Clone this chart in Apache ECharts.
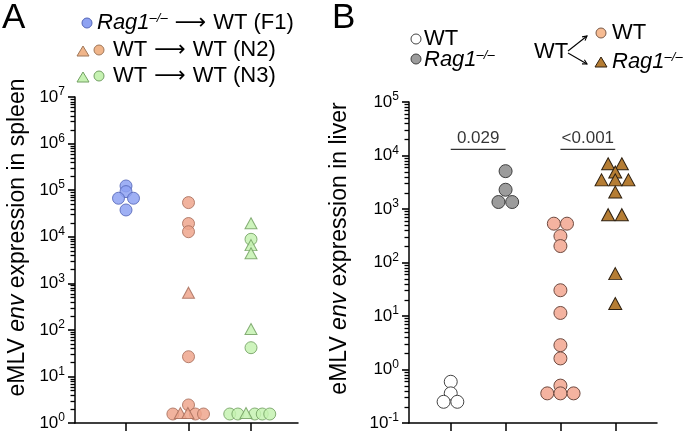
<!DOCTYPE html>
<html>
<head>
<meta charset="utf-8">
<script src="https://cdn.jsdelivr.net/npm/echarts@6/dist/echarts.min.js"></script>
<style>
  html, body { margin: 0; padding: 0; background: #fff; }
  #main { width: 698px; height: 433px; }
</style>
</head>
<body>
<div id="main"></div>
<script>
'use strict';

// ---- panel A : spleen ----
var aExp = [0, 1, 2, 3, 4, 5, 6, 7];
var aPos = { f1: 1, n2: 2, n3: 3 };

var aF1Circle = [1.23e5, 9.3e4, 6.7e4, 6.7e4, 3.75e4];
var aF1CircleJit = [0, 0, -0.12, 0.12, 0];

var aN2Circle = [5.4e4, 1.92e4, 1.28e4, 26.5, 2.44, 1.56, 1.56, 1.56];
var aN2CircleJit = [0, 0, 0, 0, 0, -0.25, 0.11, 0.24];
var aN2Tri = [628, 1.64, 1.64];
var aN2TriJit = [0, -0.13, -0.01];

var aN3Circle = [8.8e3, 41.4, 1.56, 1.56, 1.56, 1.56, 1.56];
var aN3CircleJit = [0, 0, -0.34, -0.21, 0.06, 0.18, 0.3];
var aN3Tri = [1.94e4, 6.6e3, 4.4e3, 104, 1.64];
var aN3TriJit = [0, 0, 0, 0, -0.08];

// ---- panel B : liver ----
var bExp = [-1, 0, 1, 2, 3, 4, 5];
var bPos = { wt: 1, rag: 2, wtwt: 3, wtrag: 4 };

var bWT = [0.59, 0.358, 0.249, 0.249];
var bWTJit = [0, 0, -0.13, 0.12];
var bRag = [5.1e3, 2.29e3, 1.35e3, 1.35e3];
var bRagJit = [0, 0, -0.13, 0.12];
var bWtWt = [532, 532, 312, 203, 30.3, 11.4, 2.85, 1.61, 0.5, 0.358, 0.358, 0.358];
var bWtWtJit = [-0.12, 0.12, 0, 0, 0, 0, 0, 0, 0, -0.24, 0, 0.24];
var bWtRag = [7.0e3, 7.0e3, 4.9e3, 3.5e3, 3.5e3, 3.5e3, 2.07e3, 783, 783, 62, 17.1];
var bWtRagJit = [-0.13, 0.12, 0, -0.25, 0, 0.24, 0, -0.13, 0.12, 0, 0];

var bPLabels = ['0.029', '<0.001'];
var bPFrom = [1, 3];
var bPTo = [2, 4];
var bPLevel = 1.3e4;

var FONT = '"Liberation Sans", Arial, Helvetica, sans-serif';
var aXRange = [0.184, 3.752];
var bXRange = [0.239, 4.761];

function pts(pos, vals, jit) {
    return vals.map(function (v, i) { return [pos + jit[i], Math.log10(v)]; });
}

// log-style minor ticks (2..9 in each decade)
function minorTicks(exps) {
    var out = [];
    for (var i = 0; i < exps.length - 1; i++) {
        for (var k = 2; k <= 9; k++) {
            out.push(exps[i] + Math.log10(k));
        }
    }
    return out;
}

var tickRich = {
    b: { fontSize: 17, fontFamily: FONT, color: '#000' },
    s: { fontSize: 12, fontFamily: FONT, color: '#000', padding: [0, 0, 10, 0] }
};

function mainY(grid, exps, gap, shift, nameParts) {
    return {
        gridIndex: grid, type: 'value', position: 'left',
        min: exps[0], max: exps[exps.length - 1], interval: 1,
        axisLine: { show: true, onZero: false, lineStyle: { color: '#000', width: 1.5 } },
        axisTick: { show: true, length: 7, lineStyle: { color: '#000', width: 1.6 } },
        axisLabel: {
            margin: 10,
            formatter: function (v) { return '{b|10}{s|' + v + '}'; },
            rich: tickRich
        },
        splitLine: { show: false },
        name: '{r|' + nameParts[0] + '}{i|' + nameParts[1] + '}{r|' + nameParts[2] + '}',
        nameLocation: 'middle',
        nameGap: gap,
        nameTextStyle: {
            padding: [0, 0, 0, shift],
            rich: {
                r: { fontSize: 23, fontFamily: FONT, color: '#000' },
                i: { fontSize: 23, fontFamily: FONT, color: '#000', fontStyle: 'italic' }
            }
        }
    };
}

function xAxisFor(grid, range, ticks) {
    return {
        gridIndex: grid, type: 'value', min: range[0], max: range[1],
        axisLine: { show: true, onZero: false, lineStyle: { color: '#000', width: 1.5 } },
        axisTick: { show: true, length: 8, customValues: ticks, lineStyle: { color: '#000', width: 1.5 } },
        axisLabel: { show: false },
        splitLine: { show: false }
    };
}

function dots(x, y, data, symbol, size, fill, border, opacity) {
    return {
        type: 'scatter', xAxisIndex: x, yAxisIndex: y, data: data,
        symbol: symbol, symbolSize: size, silent: true,
        itemStyle: { color: fill, borderColor: border, borderWidth: 1, opacity: opacity }
    };
}

var series = [
    dots(0, 0, pts(aPos.f1, aF1Circle, aF1CircleJit), 'circle', 12, '#8ea2f2', '#5566b8', 0.85),
    dots(0, 0, pts(aPos.n2, aN2Circle, aN2CircleJit), 'circle', 12, '#eea68d', '#a86e5c', 0.85),
    dots(0, 0, pts(aPos.n2, aN2Tri, aN2TriJit), 'triangle', [12, 11], '#eea68d', '#a86e5c', 0.85),
    dots(0, 0, pts(aPos.n3, aN3Circle, aN3CircleJit), 'circle', 12, '#c6f2b2', '#72a062', 0.85),
    dots(0, 0, pts(aPos.n3, aN3Tri, aN3TriJit), 'triangle', [12, 11], '#c6f2b2', '#72a062', 0.85),

    dots(1, 1, pts(bPos.wt, bWT, bWTJit), 'circle', 13, '#ffffff', '#444444', 1),
    dots(1, 1, pts(bPos.rag, bRag, bRagJit), 'circle', 13, '#9c9c9c', '#3e3e3e', 1),
    dots(1, 1, pts(bPos.wtwt, bWtWt, bWtWtJit), 'circle', 13, '#f4b3a0', '#6e4a40', 1),
    dots(1, 1, pts(bPos.wtrag, bWtRag, bWtRagJit), 'triangle', [13, 12], '#b57d34', '#2e2010', 1)
];

bPLabels.forEach(function (txt, i) {
    var yv = Math.log10(bPLevel);
    series.push({
        type: 'line', xAxisIndex: 1, yAxisIndex: 1, silent: true,
        data: [[bPFrom[i], yv], [bPTo[i], yv]],
        symbol: 'none', lineStyle: { color: '#333', width: 1.2 }
    });
    series.push({
        type: 'scatter', xAxisIndex: 1, yAxisIndex: 1, silent: true,
        data: [[(bPFrom[i] + bPTo[i]) / 2, yv]], symbolSize: 0,
        label: { show: true, position: 'top', distance: 3, formatter: txt, fontSize: 17, fontFamily: FONT, color: '#000' }
    });
});

// legend / panel letters drawn as graphics
function legRich(size) {
    return {
        n: { fontSize: size, fontFamily: FONT, color: '#000' },
        i: { fontSize: size, fontFamily: FONT, color: '#000', fontStyle: 'italic' },
        a: { fontSize: size, fontFamily: '"DejaVu Sans", sans-serif', color: '#000' },
        s: { fontSize: Math.round(size * 0.6), fontFamily: FONT, color: '#000', fontStyle: 'italic', padding: [0, 0, 10, 0] }
    };
}
function legText(x, y, txt, size) {
    return { type: 'text', x: x, y: y, style: { text: txt, rich: legRich(size), verticalAlign: 'middle', align: 'left' } };
}
function legCircle(x, y, fill, stroke) {
    return { type: 'circle', shape: { cx: x, cy: y, r: 5 }, style: { fill: fill, stroke: stroke, lineWidth: 1 } };
}
function legTri(x, y, fill, stroke) {
    return { type: 'polygon', shape: { points: [[x, y - 5], [x + 6, y + 5], [x - 6, y + 5]] }, style: { fill: fill, stroke: stroke, lineWidth: 1 } };
}
function arrowLine(x1, y1, x2, y2) {
    var a = Math.atan2(y2 - y1, x2 - x1), h = 5;
    return [
        { type: 'line', shape: { x1: x1, y1: y1, x2: x2, y2: y2 }, style: { stroke: '#000', lineWidth: 1.1 } },
        { type: 'polyline', shape: { points: [
            [x2 - h * Math.cos(a - 0.5), y2 - h * Math.sin(a - 0.5)], [x2, y2],
            [x2 - h * Math.cos(a + 0.5), y2 - h * Math.sin(a + 0.5)]] },
          style: { stroke: '#000', lineWidth: 1.1, fill: null } }
    ];
}

var ARROW = '{a| \u27F6 }';
var graphics = [
    { type: 'text', x: 2, y: 18, style: { text: 'A', fontSize: 35, fontFamily: FONT, fill: '#000', verticalAlign: 'middle' } },
    { type: 'text', x: 332, y: 18, style: { text: 'B', fontSize: 35, fontFamily: FONT, fill: '#000', verticalAlign: 'middle' } },

    legCircle(87, 23, '#8ea2f2', '#5566b8'),
    legText(97, 23, '{i|Rag1}{s|\u2013/\u2013}' + ARROW + '{n|WT (F1)}', 22),
    legTri(83, 51, '#f0b58a', '#a0785a'),
    legCircle(99, 50, '#f0b58a', '#a0785a'),
    legText(113, 50, '{n|WT}' + ARROW + '{n|WT (N2)}', 22),
    legTri(83, 77, '#c6f2b2', '#72a062'),
    legCircle(99, 76, '#c6f2b2', '#72a062'),
    legText(113, 76, '{n|WT}' + ARROW + '{n|WT (N3)}', 22),

    legCircle(416, 39, '#ffffff', '#444'),
    legText(424, 39, '{n|WT}', 22),
    legCircle(416, 59, '#9c9c9c', '#3e3e3e'),
    legText(424, 60, '{i|Rag1}{s|\u2013/\u2013}', 22),
    legText(534, 52, '{n|WT}', 22),
    legCircle(601, 33, '#f6bb92', '#7a5a48'),
    legText(612, 33, '{n|WT}', 22),
    legTri(601, 62, '#b57d34', '#2e2010'),
    legText(612, 62, '{i|Rag1}{s|\u2013/\u2013}', 22)
].concat(arrowLine(568, 51, 587, 36), arrowLine(568, 53, 587, 64));

var chart = echarts.init(document.getElementById('main'));
chart.setOption({
    animation: false,
    backgroundColor: '#fff',
    grid: [
        { left: 75, right: 400, top: 97, bottom: 10 },
        { left: 409, right: 41, top: 102, bottom: 10 }
    ],
    xAxis: [
        xAxisFor(0, aXRange, [1, 2, 3]),
        xAxisFor(1, bXRange, [1, 2, 3, 4])
    ],
    yAxis: [
        mainY(0, aExp, 46, 45, ['eMLV ', 'env', ' expression in spleen']),
        mainY(1, bExp, 58, 28, ['eMLV ', 'env', ' expression in liver'])
    ],
    series: series,
    graphic: graphics
});

// minor ticks: short lines placed through the axes' own scale
function minorLines(gridIndex, exps, xmin) {
    return minorTicks(exps).map(function (v) {
        var p = chart.convertToPixel({ gridIndex: gridIndex }, [xmin, v]);
        var y = Math.round(p[1]) + 0.5;
        return {
            type: 'line', silent: true, z: 10,
            shape: { x1: p[0] - 4.5, y1: y, x2: p[0], y2: y },
            style: { stroke: '#000', lineWidth: 1.3 }
        };
    });
}
chart.setOption({
    graphic: graphics.concat(minorLines(0, aExp, aXRange[0]), minorLines(1, bExp, bXRange[0]))
});
</script>
</body>
</html>
